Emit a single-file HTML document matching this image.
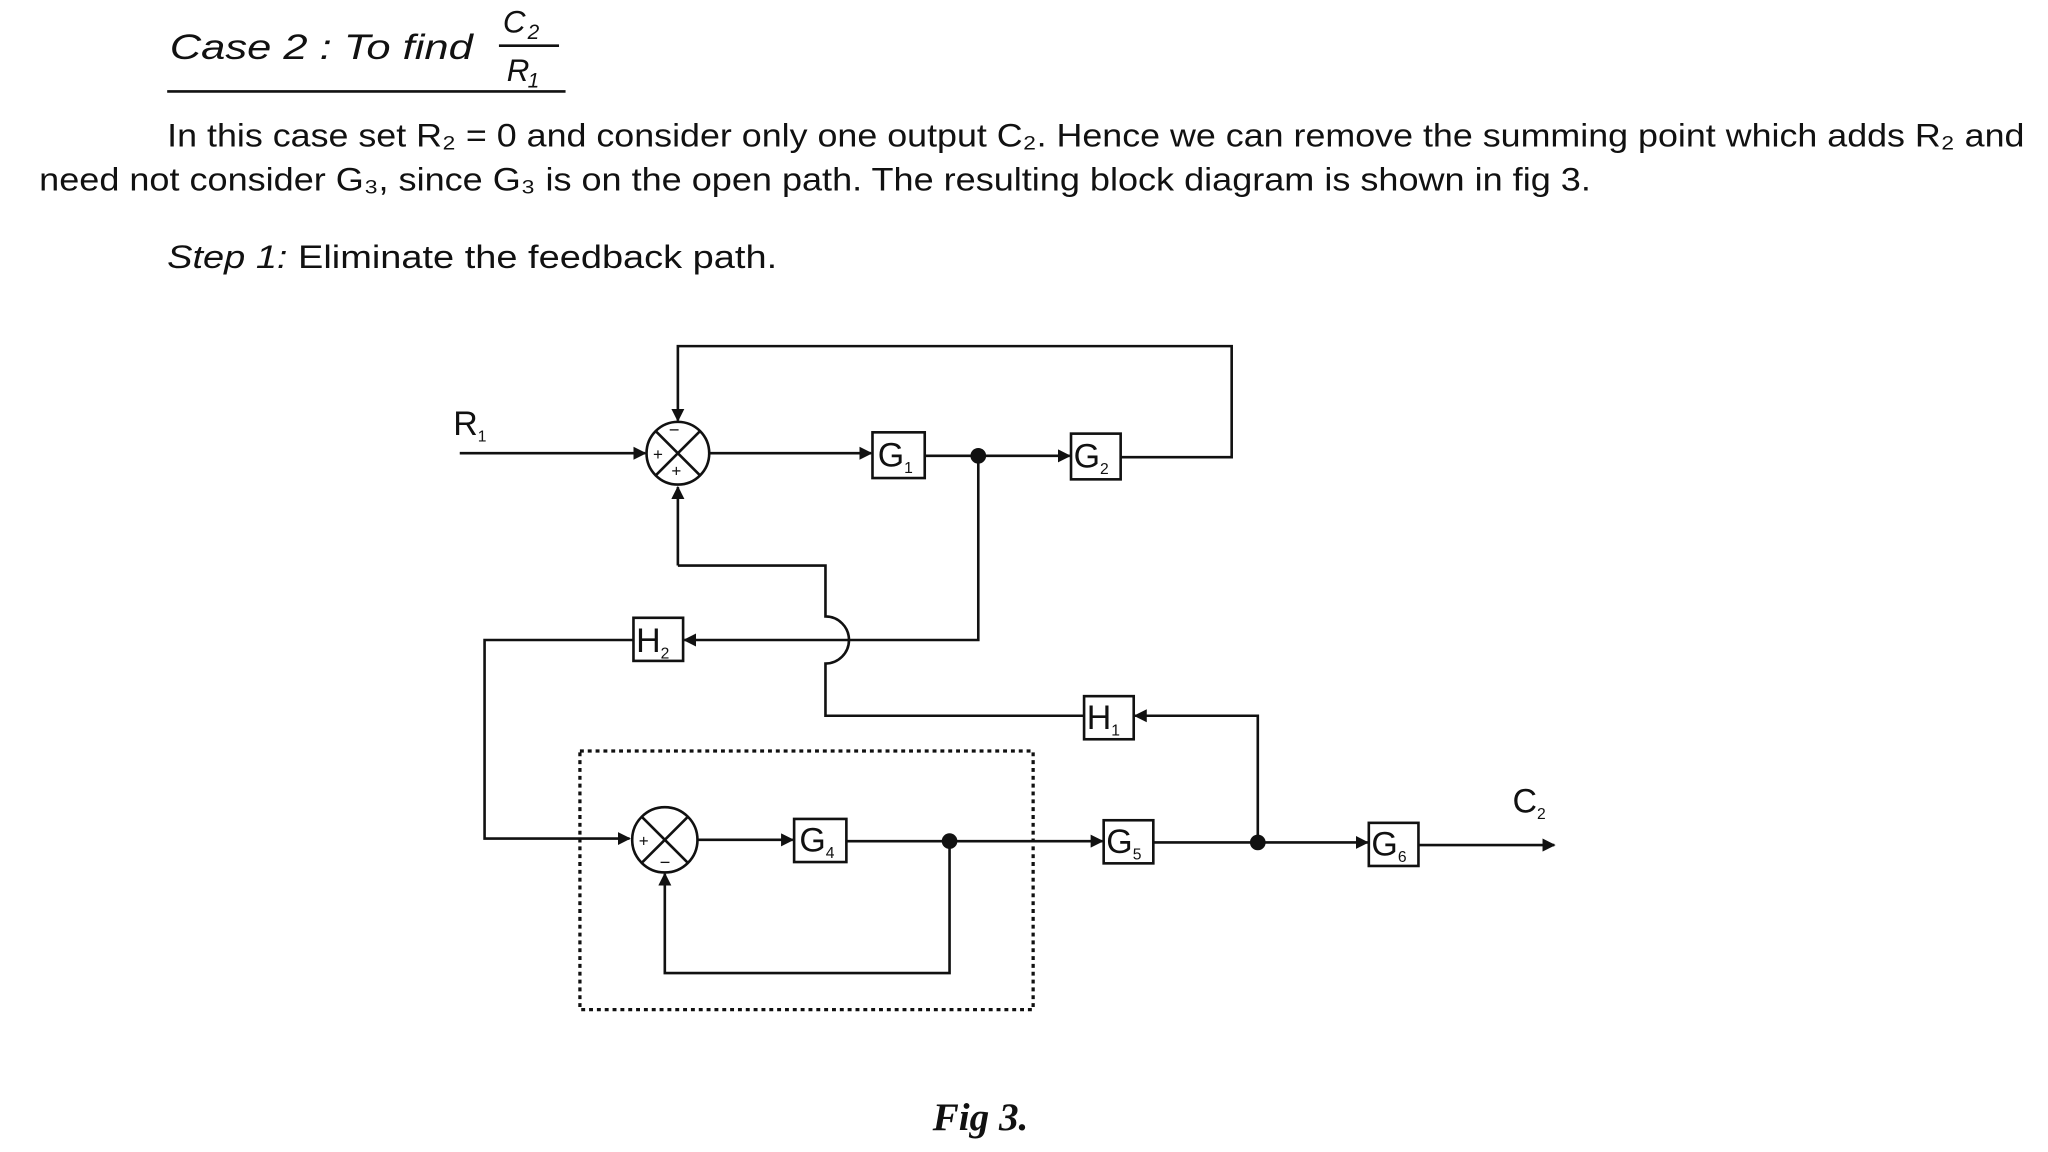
<!DOCTYPE html>
<html><head><meta charset="utf-8"><style>
html,body{margin:0;padding:0;background:#fff;}
svg{display:block}
</style></head><body>
<svg width="2048" height="1152" viewBox="0 0 1568 882" xmlns="http://www.w3.org/2000/svg">
<defs><marker id="a" markerWidth="10" markerHeight="10" refX="9" refY="5" orient="auto" markerUnits="userSpaceOnUse"><path d="M0,0 L10,5 L0,10 z" fill="#111"/></marker></defs>
<rect width="1568" height="882" fill="#fff"/>
<g font-family="Liberation Sans, sans-serif" fill="#111">
<text x="130" y="45" font-size="27" font-style="italic" textLength="232" lengthAdjust="spacingAndGlyphs">Case 2 : To find</text>
<text x="385" y="25" font-size="24" font-style="italic">C</text><text x="404" y="30" font-size="16" font-style="italic">2</text>
<line x1="382" y1="35" x2="428" y2="35" stroke="#111" stroke-width="2"/>
<text x="388" y="62" font-size="24" font-style="italic">R</text><text x="404" y="67" font-size="16" font-style="italic">1</text>
<line x1="128" y1="70" x2="433" y2="70" stroke="#111" stroke-width="2"/>
<text x="128" y="112" font-size="25" textLength="1422" lengthAdjust="spacingAndGlyphs">In this case set R₂ = 0 and consider only one output C₂. Hence we can remove the summing point which adds R₂ and</text>
<text x="30" y="146" font-size="25" textLength="1188" lengthAdjust="spacingAndGlyphs">need not consider G₃, since G₃ is on the open path. The resulting block diagram is shown in fig 3.</text>
<text x="128" y="205" font-size="25" textLength="467" lengthAdjust="spacingAndGlyphs"><tspan font-style="italic">Step 1:</tspan> Eliminate the feedback path.</text>
</g>
<g stroke="#111" stroke-width="2" fill="none">
<circle cx="519" cy="347" r="24"/>
<line x1="502" y1="330" x2="536" y2="364"/><line x1="536" y1="330" x2="502" y2="364"/>
<line x1="352" y1="347" x2="494" y2="347" marker-end="url(#a)"/>
<polyline points="858,350 943,350 943,265 519,265 519,322" marker-end="url(#a)"/>
<line x1="543" y1="347" x2="667" y2="347" marker-end="url(#a)"/>
<rect x="668" y="331" width="40" height="35"/>
<line x1="708" y1="349" x2="819" y2="349" marker-end="url(#a)"/>
<rect x="820" y="332" width="38" height="35"/>
<polyline points="749,349 749,490 524,490" marker-end="url(#a)"/>
<rect x="485" y="473" width="38" height="33"/>
<polyline points="485,490 371,490 371,642 482,642" marker-end="url(#a)"/>
<polyline points="519,433 519,373" marker-end="url(#a)"/>
<path d="M519,433 L632,433 L632,472 A18,18 0 0 1 632,508 L632,548 L830,548"/>
<rect x="830" y="533" width="38" height="33"/>
<polyline points="963,645 963,548 869,548" marker-end="url(#a)"/>
<circle cx="509" cy="643" r="25"/>
<line x1="491" y1="625" x2="527" y2="661"/><line x1="527" y1="625" x2="491" y2="661"/>
<line x1="534" y1="643" x2="607" y2="643" marker-end="url(#a)"/>
<rect x="608" y="627" width="40" height="33"/>
<line x1="648" y1="644" x2="844" y2="644" marker-end="url(#a)"/>
<rect x="845" y="628" width="38" height="33"/>
<line x1="883" y1="645" x2="1047" y2="645" marker-end="url(#a)"/>
<rect x="1048" y="630" width="38" height="33"/>
<line x1="1086" y1="647" x2="1190" y2="647" marker-end="url(#a)"/>
<polyline points="727,644 727,745 509,745 509,669" marker-end="url(#a)"/>
<rect x="444" y="575" width="347" height="198" stroke-dasharray="3,3" stroke-width="2.5"/>
</g>
<g fill="#111">
<circle cx="749" cy="349" r="6"/><circle cx="727" cy="644" r="6"/><circle cx="963" cy="645" r="6"/>
</g>
<g font-family="Liberation Sans, sans-serif" fill="#111" font-size="26">
<text x="347" y="333">R<tspan font-size="12" dy="5">1</tspan></text>
<text x="672" y="357">G<tspan font-size="12" dy="5">1</tspan></text>
<text x="822" y="358">G<tspan font-size="12" dy="5">2</tspan></text>
<text x="487" y="499">H<tspan font-size="12" dy="5">2</tspan></text>
<text x="832" y="558">H<tspan font-size="12" dy="5">1</tspan></text>
<text x="612" y="652">G<tspan font-size="12" dy="5">4</tspan></text>
<text x="847" y="653">G<tspan font-size="12" dy="5">5</tspan></text>
<text x="1050" y="655">G<tspan font-size="12" dy="5">6</tspan></text>
<text x="1158" y="622">C<tspan font-size="12" dy="5">2</tspan></text>
<text x="512" y="334" font-size="14">−</text>
<text x="500" y="352" font-size="13">+</text>
<text x="514" y="365" font-size="13">+</text>
<text x="489" y="648" font-size="13">+</text>
<text x="505" y="665" font-size="14">−</text>
<text x="714" y="865" font-family="Liberation Serif, serif" font-size="30" font-style="italic" font-weight="bold">Fig 3.</text>
</g>
</svg>
</body></html>
